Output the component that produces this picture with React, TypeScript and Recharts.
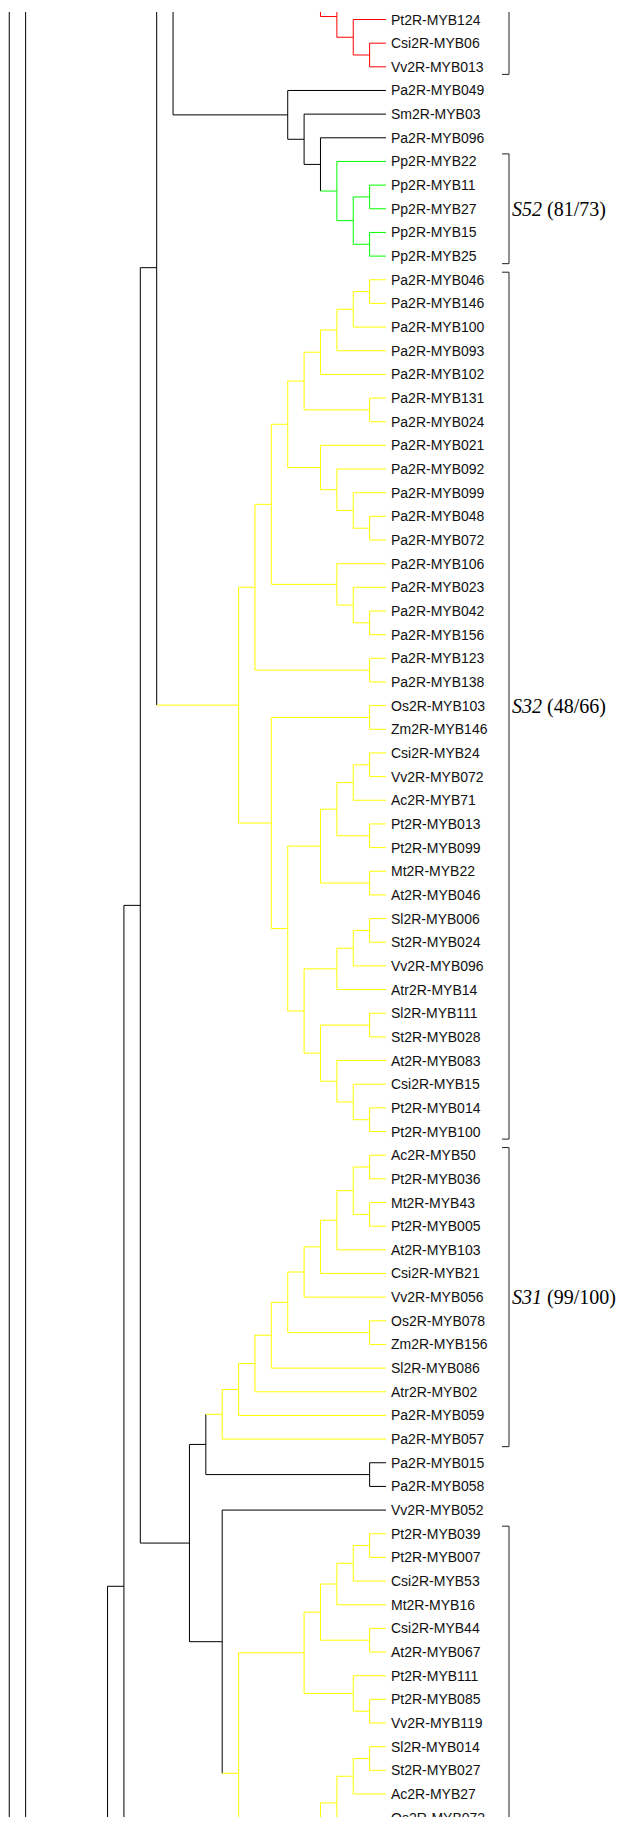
import { ScatterChart, Scatter, XAxis, YAxis, ReferenceLine } from 'recharts'

type Off = { n: number; h: number }
type Node = string | Off | Node[]

// parts of the tree that lie outside the picture: n leaf rows, clade height h
const off = (n: number, h: number): Off => ({ n, h })

const RED_CLADE: Node[] = [off(1, 0), [off(1, 0), ['Pt2R-MYB124', ['Csi2R-MYB06', 'Vv2R-MYB013']]]]

const S52: Node[] = ['Pp2R-MYB22', [['Pp2R-MYB11', 'Pp2R-MYB27'], ['Pp2R-MYB15', 'Pp2R-MYB25']]]
const PA049_GROUP: Node[] = ['Pa2R-MYB049', ['Sm2R-MYB03', ['Pa2R-MYB096', S52]]]

const S32_A: Node[] = [[[[['Pa2R-MYB046', 'Pa2R-MYB146'], 'Pa2R-MYB100'], 'Pa2R-MYB093'], 'Pa2R-MYB102'], ['Pa2R-MYB131', 'Pa2R-MYB024']]
const S32_B: Node[] = ['Pa2R-MYB021', ['Pa2R-MYB092', ['Pa2R-MYB099', ['Pa2R-MYB048', 'Pa2R-MYB072']]]]
const S32_C: Node[] = ['Pa2R-MYB106', ['Pa2R-MYB023', ['Pa2R-MYB042', 'Pa2R-MYB156']]]
const S32_D: Node[] = [[[['Csi2R-MYB24', 'Vv2R-MYB072'], 'Ac2R-MYB71'], ['Pt2R-MYB013', 'Pt2R-MYB099']], ['Mt2R-MYB22', 'At2R-MYB046']]
const S32_E: Node[] = [[['Sl2R-MYB006', 'St2R-MYB024'], 'Vv2R-MYB096'], 'Atr2R-MYB14']
const S32_F: Node[] = [['Sl2R-MYB111', 'St2R-MYB028'], ['At2R-MYB083', ['Csi2R-MYB15', ['Pt2R-MYB014', 'Pt2R-MYB100']]]]
const S32: Node[] = [
  [[[S32_A, S32_B], S32_C], ['Pa2R-MYB123', 'Pa2R-MYB138']],
  [['Os2R-MYB103', 'Zm2R-MYB146'], [S32_D, [S32_E, S32_F]]],
]

const S31: Node[] = [[[[[[[[[['Ac2R-MYB50', 'Pt2R-MYB036'], ['Mt2R-MYB43', 'Pt2R-MYB005']], 'At2R-MYB103'], 'Csi2R-MYB21'], 'Vv2R-MYB056'], ['Os2R-MYB078', 'Zm2R-MYB156']], 'Sl2R-MYB086'], 'Atr2R-MYB02'], 'Pa2R-MYB059'], 'Pa2R-MYB057']
const PA_PAIR: Node[] = ['Pa2R-MYB015', 'Pa2R-MYB058']

const G_UP: Node[] = [[[[['Pt2R-MYB039', 'Pt2R-MYB007'], 'Csi2R-MYB53'], 'Mt2R-MYB16'], ['Csi2R-MYB44', 'At2R-MYB067']], ['Pt2R-MYB111', ['Pt2R-MYB085', 'Vv2R-MYB119']]]
const G_LOW: Node[] = [[[[['Sl2R-MYB014', 'St2R-MYB027'], 'Ac2R-MYB27'], ['Os2R-MYB072', off(1, 0)]], off(2, 1)], off(4, 7)]
const G_CLADE: Node[] = [G_UP, G_LOW]

const TREE: Node[] = [
  [off(40, 21), [[[[[[off(73, 11), RED_CLADE], PA049_GROUP], S32], [[S31, PA_PAIR], ['Vv2R-MYB052', G_CLADE]]], off(23, 13)], off(10, 14)]],
  off(20, 20),
]

const CLADE_COLORS = new Map<Node, string>([
  [RED_CLADE, '#ff0000'],
  [S52, '#00ff00'],
  [S32, '#ffff00'],
  [S31, '#ffff00'],
  [G_CLADE, '#ffff00'],
])

const BRACKETS = [
  { clade: RED_CLADE, name: '', support: '' },
  { clade: S52, name: 'S52', support: '(81/73)' },
  { clade: S32, name: 'S32', support: '(48/66)' },
  { clade: S31, name: 'S31', support: '(99/100)' },
  { clade: G_CLADE, name: '', support: '' },
]

const W = 628
const H = 1825
const TOP = 12
const LEAF_PX = 386
const STEP_PX = 16.38
const ROW_PX = 23.66
const FIRST_ROW_PX = 19.5
const px = (p: number) => (p - LEAF_PX) / STEP_PX

type Seg = { x1: number; y1: number; x2: number; y2: number; color: string }
const segs: Seg[] = []
const leaves: { x: number; y: number; name: string }[] = []
const spans = new Map<Node, [number, number]>()
let slot = 0

function place(node: Node, inherited: string): { x: number; y: number; h: number; color: string } {
  const color = CLADE_COLORS.get(node) ?? inherited
  if (typeof node === 'string') {
    const y = slot++
    leaves.push({ x: 0, y, name: node })
    return { x: 0, y, h: 0, color }
  }
  if (!Array.isArray(node)) {
    const y = slot + (node.n - 1) / 2
    slot += node.n
    return { x: -node.h, y, h: node.h, color }
  }
  const start = slot
  const kids = node.map((k) => place(k, color))
  spans.set(node, [start, slot - 1])
  const h = 1 + Math.max(...kids.map((k) => k.h))
  const x = -h
  const first = kids[0]
  const last = kids[kids.length - 1]
  segs.push({ x1: x, y1: first.y, x2: x, y2: last.y, color })
  kids.forEach((k) => segs.push({ x1: x, y1: k.y, x2: k.x, y2: k.y, color: k.color }))
  return { x, y: (first.y + last.y) / 2, h, color }
}
place(TREE, '#000')

const slot0 = leaves[0].y
const yDomain = [slot0 - (FIRST_ROW_PX - TOP) / ROW_PX, slot0 + (H - FIRST_ROW_PX) / ROW_PX]
const xDomain = [px(0), px(W)]

const PAD = 0.32
const BX = px(509)
const TICK = px(502)
const bracketSegs: Seg[] = []
const cladeLabels: { x: number; y: number; name: string; support: string }[] = []
BRACKETS.forEach((b) => {
  const [a, z] = spans.get(b.clade)!
  const top = a - PAD
  const bot = z + PAD
  bracketSegs.push({ x1: BX, y1: top, x2: BX, y2: bot, color: '#222' })
  bracketSegs.push({ x1: TICK, y1: top, x2: BX, y2: top, color: '#222' })
  bracketSegs.push({ x1: TICK, y1: bot, x2: BX, y2: bot, color: '#222' })
  if (b.name) cladeLabels.push({ x: px(512), y: (top + bot) / 2, name: b.name, support: b.support })
})

const LeafLabel = (p: any) => (
  <text x={p.cx + 5} y={p.cy} dominantBaseline="central" fontFamily="Arial, 'Liberation Sans', sans-serif" fontSize={14} fill="#111">
    {p.payload.name}
  </text>
)

const CladeLabel = (p: any) => (
  <text x={p.cx} y={p.cy} dominantBaseline="central" fontFamily="'Times New Roman', 'Liberation Serif', serif" fontSize={20} fill="#000">
    <tspan fontStyle="italic">{p.payload.name}</tspan>
    <tspan dx={5}>{p.payload.support}</tspan>
  </text>
)

export default function App() {
  return (
    <div style={{ margin: -8, background: '#fff' }}>
      <ScatterChart width={W} height={H} margin={{ top: TOP, right: 0, bottom: 0, left: 0 }}>
        <XAxis type="number" dataKey="x" domain={xDomain} allowDataOverflow hide />
        <YAxis type="number" dataKey="y" domain={yDomain} allowDataOverflow reversed hide />
        {[...segs, ...bracketSegs].map((s, i) => (
          <ReferenceLine
            key={i}
            segment={[{ x: s.x1, y: s.y1 }, { x: s.x2, y: s.y2 }]}
            stroke={s.color}
            strokeWidth={1}
            ifOverflow="hidden"
          />
        ))}
        <Scatter data={leaves} shape={LeafLabel} isAnimationActive={false} />
        <Scatter data={cladeLabels} shape={CladeLabel} isAnimationActive={false} />
      </ScatterChart>
    </div>
  )
}
